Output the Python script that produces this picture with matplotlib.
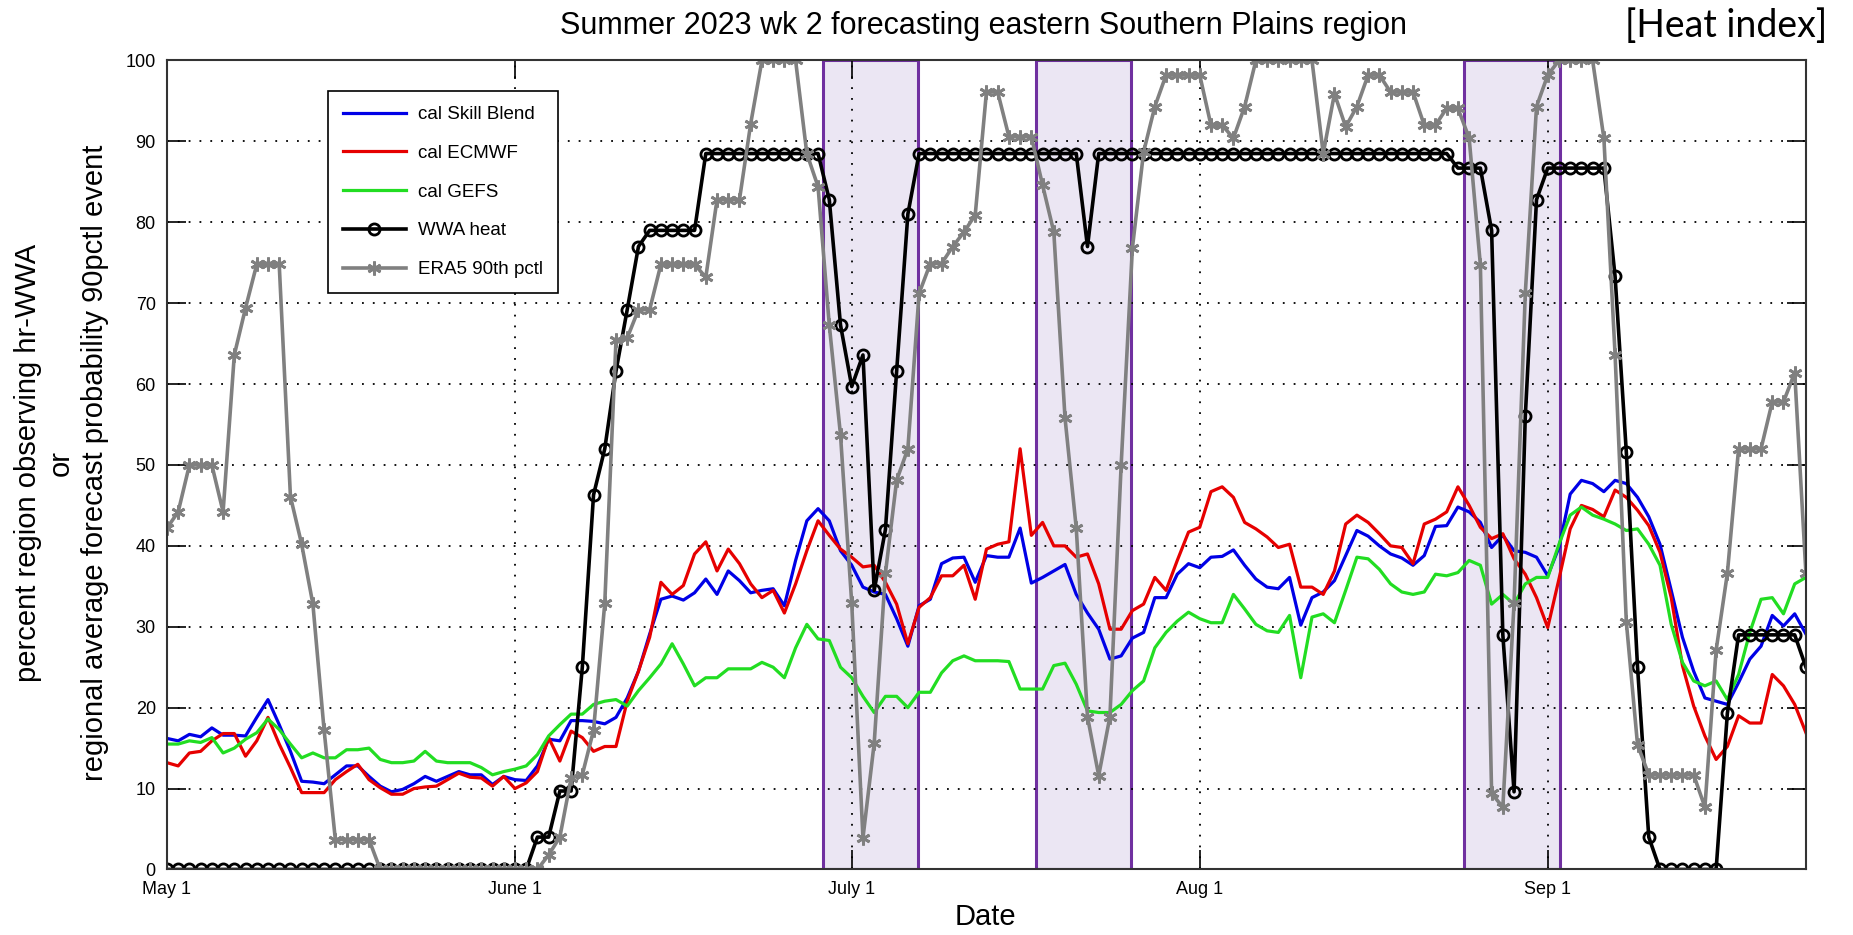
import matplotlib
matplotlib.use('Agg')
import matplotlib.pyplot as plt
import pandas as pd

plt.rcParams['font.family'] = ['Liberation Sans', 'DejaVu Sans']

# daily values, 1 May .. 24 Sep 2023
dates = pd.date_range('2023-05-01', periods=147, freq='D')

skill_blend = [16.2, 15.9, 16.7, 16.4, 17.5, 16.6, 16.6, 16.5, 18.8, 21.0,
               17.9, 14.6, 10.9, 10.8, 10.6, 11.7, 12.8, 12.8, 11.5, 10.3,
               9.6, 9.9, 10.6, 11.5, 10.9, 11.5, 12.1, 11.7, 11.7, 10.5,
               11.5, 11.1, 11.0, 12.8, 16.1, 15.9, 18.4, 18.4, 18.3, 18.0,
               18.8, 21.2, 24.5, 29.1, 33.4, 33.8, 33.3, 34.2, 35.9, 34.0,
               36.9, 35.7, 34.2, 34.5, 34.7, 32.6, 38.2, 43.1, 44.6, 43.1,
               39.4, 37.6, 34.9, 34.3, 34.0, 31.0, 27.6, 32.6, 33.4, 37.8,
               38.5, 38.6, 35.5, 38.8, 38.6, 38.6, 42.2, 35.4, 36.1, 36.9,
               37.7, 34.0, 31.7, 29.7, 26.0, 26.4, 28.6, 29.3, 33.6, 33.6,
               36.5, 37.8, 37.3, 38.6, 38.7, 39.5, 37.6, 35.9, 34.9, 34.7,
               36.1, 30.2, 33.6, 34.3, 35.7, 38.8, 41.9, 41.2, 40.0, 39.0,
               38.5, 37.6, 38.8, 42.4, 42.5, 44.8, 44.2, 42.9, 39.8, 41.3,
               39.4, 39.2, 38.6, 36.3, 39.8, 46.4, 48.1, 47.7, 46.7, 48.1,
               47.7, 46.0, 43.6, 40.2, 34.5, 28.7, 24.5, 21.2, 20.8, 20.4,
               23.1, 26.0, 27.6, 31.4, 30.1, 31.6, 29.1]

ecmwf = [13.2, 12.8, 14.4, 14.6, 15.9, 16.8, 16.8, 14.0, 15.9, 18.8,
         15.5, 12.6, 9.5, 9.5, 9.5, 11.1, 12.1, 13.0, 11.1, 10.1,
         9.3, 9.3, 10.0, 10.2, 10.3, 11.1, 11.9, 11.4, 11.3, 10.3,
         11.5, 10.0, 10.7, 12.1, 16.3, 13.4, 17.1, 16.3, 14.6, 15.2,
         15.2, 20.8, 24.5, 28.7, 35.5, 34.0, 35.1, 39.0, 40.5, 36.9,
         39.6, 37.8, 35.3, 33.6, 34.5, 31.7, 35.3, 39.4, 43.1, 41.3,
         39.6, 38.6, 37.4, 37.6, 35.5, 32.8, 27.9, 32.4, 33.6, 36.3,
         36.3, 37.6, 33.4, 39.6, 40.2, 40.5, 52.0, 41.3, 42.9, 40.0,
         40.0, 38.6, 39.0, 35.3, 29.7, 29.7, 32.0, 32.8, 36.1, 34.5,
         38.2, 41.7, 42.3, 46.7, 47.3, 46.0, 42.9, 42.1, 41.1, 39.8,
         40.2, 34.9, 34.9, 34.0, 36.9, 42.7, 43.8, 42.9, 41.5, 40.0,
         39.8, 37.8, 42.7, 43.3, 44.2, 47.3, 45.0, 42.3, 40.9, 41.5,
         38.4, 36.5, 33.6, 29.9, 35.9, 42.1, 45.0, 44.5, 43.6, 46.9,
         46.0, 44.4, 42.5, 39.2, 33.6, 25.2, 20.2, 16.5, 13.6, 15.2,
         19.0, 18.1, 18.1, 24.1, 22.7, 20.4, 16.9]

gefs = [15.5, 15.5, 15.9, 15.7, 16.3, 14.4, 15.0, 16.1, 16.9, 18.6,
        17.3, 15.5, 13.8, 14.4, 13.8, 13.8, 14.8, 14.8, 15.0, 13.6,
        13.2, 13.2, 13.4, 14.6, 13.4, 13.2, 13.2, 13.2, 12.6, 11.7,
        12.1, 12.4, 12.8, 14.2, 16.5, 17.9, 19.2, 19.2, 20.4, 20.8,
        21.0, 20.2, 22.1, 23.7, 25.4, 27.9, 25.4, 22.7, 23.7, 23.7,
        24.8, 24.8, 24.8, 25.6, 25.0, 23.7, 27.4, 30.3, 28.5, 28.3,
        25.0, 23.7, 21.4, 19.4, 21.4, 21.4, 20.0, 21.9, 21.9, 24.3,
        25.8, 26.4, 25.8, 25.8, 25.8, 25.7, 22.3, 22.3, 22.3, 25.2,
        25.5, 22.9, 19.6, 19.4, 19.4, 20.4, 22.1, 23.3, 27.4, 29.3,
        30.7, 31.8, 31.0, 30.5, 30.5, 34.0, 32.2, 30.3, 29.5, 29.3,
        31.4, 23.7, 31.2, 31.6, 30.5, 34.5, 38.6, 38.4, 37.1, 35.3,
        34.3, 34.0, 34.3, 36.5, 36.3, 36.7, 38.2, 37.6, 32.8, 34.0,
        32.8, 35.3, 36.1, 36.1, 40.2, 43.8, 44.8, 43.8, 43.3, 42.7,
        41.9, 42.1, 40.2, 37.6, 30.3, 25.6, 23.3, 22.7, 23.3, 21.0,
        24.1, 29.3, 33.4, 33.6, 31.6, 35.3, 36.1]

wwa_heat = [0, 0, 0, 0, 0, 0, 0, 0, 0, 0,
            0, 0, 0, 0, 0, 0, 0, 0, 0, 0,
            0, 0, 0, 0, 0, 0, 0, 0, 0, 0,
            0, 0, 0, 4.0, 4.0, 9.7, 9.7, 25.0, 46.3, 52.0,
            61.6, 69.2, 77.0, 79.0, 79.0, 79.0, 79.0, 79.0, 88.5, 88.5,
            88.5, 88.5, 88.5, 88.5, 88.5, 88.5, 88.5, 88.5, 88.5, 82.8,
            67.3, 59.7, 63.6, 34.5, 42.0, 61.6, 81.0, 88.5, 88.5, 88.5,
            88.5, 88.5, 88.5, 88.5, 88.5, 88.5, 88.5, 88.5, 88.5, 88.5,
            88.5, 88.5, 77.0, 88.5, 88.5, 88.5, 88.5, 88.5, 88.5, 88.5,
            88.5, 88.5, 88.5, 88.5, 88.5, 88.5, 88.5, 88.5, 88.5, 88.5,
            88.5, 88.5, 88.5, 88.5, 88.5, 88.5, 88.5, 88.5, 88.5, 88.5,
            88.5, 88.5, 88.5, 88.5, 88.5, 86.7, 86.7, 86.7, 79.0, 29.0,
            9.6, 56.0, 82.8, 86.7, 86.7, 86.7, 86.7, 86.7, 86.7, 73.3,
            51.6, 25.0, 4.0, 0, 0, 0, 0, 0, 0, 19.3,
            29.0, 29.0, 29.0, 29.0, 29.0, 29.0, 25.0]

era5_90 = [42.2, 44.2, 50.0, 50.0, 50.0, 44.2, 63.6, 69.4, 74.8, 74.8,
           74.8, 46.1, 40.2, 32.8, 17.2, 3.7, 3.7, 3.7, 3.7, 0,
           0, 0, 0, 0, 0, 0, 0, 0, 0, 0,
           0, 0, 0, 0, 1.8, 4.0, 11.3, 11.7, 17.2, 32.9,
           65.4, 65.7, 69.2, 69.2, 74.8, 74.8, 74.8, 74.8, 73.2, 82.8,
           82.8, 82.8, 92.2, 100, 100, 100, 100, 88.5, 84.4, 67.3,
           53.7, 32.9, 3.9, 15.6, 36.6, 48.1, 52.0, 71.2, 74.9, 74.9,
           77.0, 78.8, 80.9, 96.1, 96.1, 90.6, 90.6, 90.6, 84.6, 78.8,
           55.8, 42.2, 18.9, 11.6, 18.9, 50.0, 76.8, 88.7, 94.3, 98.2,
           98.2, 98.2, 98.2, 92.0, 92.0, 90.4, 94.3, 100, 100, 100,
           100, 100, 100, 88.5, 95.9, 91.8, 94.3, 98.2, 98.2, 96.1,
           96.1, 96.1, 92.0, 92.0, 94.1, 94.1, 90.4, 74.7, 9.4, 7.7,
           32.9, 71.2, 94.3, 98.2, 100, 100, 100, 100, 90.4, 63.6,
           30.6, 15.4, 11.7, 11.7, 11.7, 11.7, 11.7, 7.7, 27.1, 36.6,
           52.0, 52.0, 52.0, 57.8, 57.8, 61.4, 36.6]

# highlighted event windows
windows = [('2023-06-28 11:00', '2023-07-06 22:00'),
           ('2023-07-17 10:00', '2023-07-25 20:00'),
           ('2023-08-24 14:00', '2023-09-02 02:00')]

tick_dates = ['2023-05-01', '2023-06-01', '2023-07-01', '2023-08-01', '2023-09-01']
tick_labels = ['May 1', 'June 1', 'July 1', 'Aug 1', 'Sep 1']

fig = plt.figure(figsize=(18.53, 9.35), dpi=100)
ax = fig.add_axes([0.0901, 0.0701, 0.8845, 0.8652])

for a, b in windows:
    ax.axvspan(pd.Timestamp(a), pd.Timestamp(b), facecolor='#ebe6f3',
               edgecolor='#7030a0', linewidth=2.2, zorder=0.5)

ax.plot(dates, skill_blend, color='#0000e6', lw=2.3, label='cal Skill Blend')
ax.plot(dates, ecmwf, color='#e60000', lw=2.3, label='cal ECMWF')
ax.plot(dates, gefs, color='#22dd22', lw=2.3, label='cal GEFS')
ax.plot(dates, wwa_heat, color='black', lw=2.6, marker='o', ms=8,
        mfc='none', mec='black', mew=2, label='WWA heat')
ax.plot(dates, era5_90, color='#808080', lw=2.6, marker=(6, 2, 0), ms=10,
        mec='#808080', mew=2, label='ERA5 90th pctl')

ax.set_xlim(dates[0], dates[-1])
ax.set_ylim(0, 100)
ax.set_yticks(range(0, 101, 10))
ax.set_xticks(pd.to_datetime(tick_dates))
ax.set_xticklabels(tick_labels)
ax.tick_params(direction='in', length=14, width=1.2, top=True, right=True,
               labelsize=13, pad=8)
ax.grid(True, color='black', linestyle=(0, (1, 5)), linewidth=1.3)
for s in ax.spines.values():
    s.set_linewidth(1.5)
    s.set_color('#333333')

leg = ax.legend(loc='upper left', bbox_to_anchor=(0.098, 0.962),
                borderaxespad=0, fontsize=13.5, handlelength=3.4,
                labelspacing=1.15, numpoints=1, fancybox=False,
                edgecolor='black', framealpha=1, borderpad=0.8,
                handletextpad=0.6)
leg.get_frame().set_linewidth(1.2)

fig.text(0.531, 0.972, 'Summer 2023 wk 2 forecasting eastern Southern Plains region',
         ha='center', va='center', fontsize=22)
fig.text(0.986, 0.972, '[Heat index]', ha='right', va='center', fontsize=27,
         family=['Lato', 'DejaVu Sans'])
fig.text(0.033, 0.505, 'percent region observing hr-WWA\nor\n'
         'regional average forecast probability 90pctl event',
         rotation=90, ha='center', va='center', fontsize=21,
         multialignment='center', linespacing=1.25)
fig.text(0.532, 0.019, 'Date', ha='center', va='center', fontsize=21)

fig.savefig('out.png', dpi=100)
